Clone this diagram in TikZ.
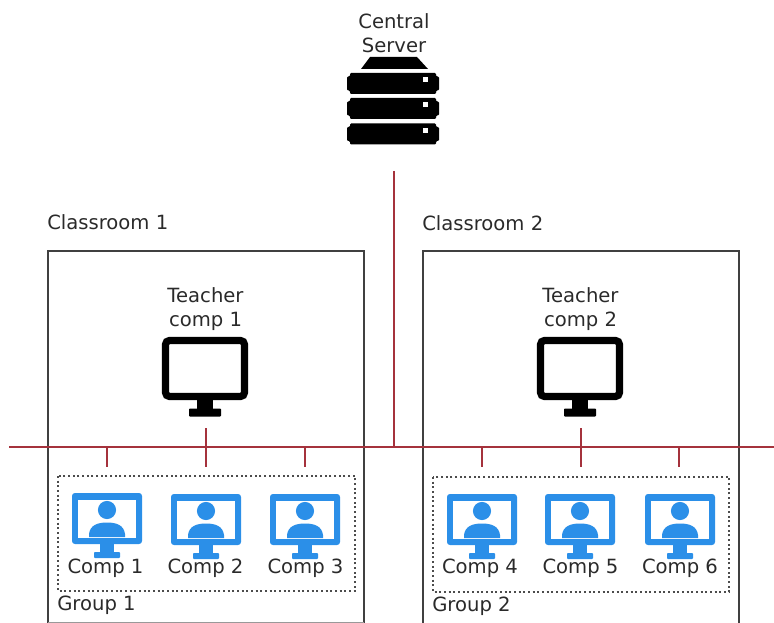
\documentclass[tikz,border=0pt]{standalone}
\usepackage{fontspec}
\setmainfont{DejaVu Sans}
\definecolor{wire}{HTML}{A5323C}
\definecolor{iconblue}{HTML}{2B8FE8}
\definecolor{ink}{HTML}{2A2A2A}
\tikzset{
  x=0.75pt,y=-0.75pt,
  lbl/.style={font=\fontsize{14.7pt}{18pt}\selectfont,text=ink,inner sep=0pt,align=center},
  room/.style={draw=black!75,line width=0.9pt},
  groupbox/.style={draw=black!70,line width=1.3pt,dash pattern=on 1.6pt off 1.9pt},
  wireline/.style={draw=wire,line width=1.3pt},
  pics/student/.style={code={
    \fill[iconblue,rounded corners=2.2pt] (-35,-36) rectangle (35,15);
    \fill[white] (-29,-29) rectangle (29,9);
    \fill[iconblue] (0,-19) circle[radius=6.8pt];
    \fill[iconblue] (-18,8) -- (-18,5) .. controls (-17,-4) and (-9,-6.5) .. (0,-6.5) .. controls (9,-6.5) and (17,-4) .. (18,5) -- (18,8) -- cycle;
    \fill[iconblue] (-7,15) rectangle (7,24);
    \fill[iconblue,rounded corners=0.6pt] (-13,23) rectangle (13,29);
  }},
  pics/teacher/.style={code={
    \draw[black,line width=5.4pt,rounded corners=3pt] (-39.5,-28) rectangle (39.5,28);
    \fill[black] (-8,31) rectangle (8,44);
    \fill[black,rounded corners=0.6pt] (-16,40) rectangle (16,48);
  }},
  pics/rackbar/.style={code={
    \fill[black,rounded corners=0.8pt] (-46,-7) -- (-43,-7) -- (-43,-10.5) -- (43,-10.5) -- (43,-7) -- (46,-7)
      -- (46,7) -- (43,7) -- (43,10.5) -- (-43,10.5) -- (-43,7) -- (-46,7) -- cycle;
    \fill[white] (30,-6) rectangle (35,-1);
  }}
}
\begin{document}
\begin{tikzpicture}
\useasboundingbox (0,0) rectangle (774,623);
% rooms
\draw[room] (48,623) |- (364,251) -- (364,623);
\draw[room] (423,623) |- (739,251) -- (739,623);
\draw[black!40,line width=0.6pt] (48,622.4) -- (364,622.4);
% labels
\node[lbl,anchor=west] (room1) at (47,222) {Classroom 1};
\node[lbl,anchor=west] (room2) at (422,223) {Classroom 2};
\node[lbl] (srvlabel) at (394,33) {Central\\Server};
\node[lbl] (t1label) at (205.5,309) {Teacher\\comp 1};
\node[lbl] (t2label) at (580.5,309) {Teacher\\comp 2};
% server
\fill[black] (370,57) -- (417,57) -- (428,69) -- (361,69) -- cycle;
\pic at (393,83.5) {rackbar};
\pic at (393,108.5) {rackbar};
\pic at (393,134) {rackbar};
\coordinate (srv) at (394,171);
% teacher monitors
\pic at (205,368.5) {teacher};
\pic at (580,368.5) {teacher};
% wiring
\coordinate (busL) at (9,447);
\coordinate (busR) at (774,447);
\coordinate (busM) at (394,447);
\draw[wireline] (busL) -- (busR);
\draw[wireline] (srv) -- (busM);
\foreach \n/\x in {a/107,b/206,c/305,d/482,e/581,f/679}{
  \coordinate (top\n) at (\x,428);
  \coordinate (bus\n) at (\x,447);
  \coordinate (end\n) at (\x,467);
}
\draw[wireline] (busa) -- (enda);
\draw[wireline] (topb) -- (endb);
\draw[wireline] (busc) -- (endc);
\draw[wireline] (busd) -- (endd);
\draw[wireline] (tope) -- (ende);
\draw[wireline] (busf) -- (endf);
% groups
\draw[groupbox] (58,476) rectangle (355,591);
\draw[groupbox] (433,477) rectangle (729,592);
\node[lbl,anchor=west] (g1) at (57,605) {Group 1};
\node[lbl,anchor=west] (g2) at (432,606) {Group 2};
% students
\pic at (107,529) {student};
\pic at (206,530) {student};
\pic at (305,530) {student};
\pic at (482,530) {student};
\pic at (580,530) {student};
\pic at (680,530) {student};
\node[lbl] (c1) at (105.5,568) {Comp 1};
\node[lbl] (c2) at (205.5,568) {Comp 2};
\node[lbl] (c3) at (305.5,568) {Comp 3};
\node[lbl] (c4) at (480,568) {Comp 4};
\node[lbl] (c5) at (580.5,568) {Comp 5};
\node[lbl] (c6) at (680,568) {Comp 6};
\end{tikzpicture}
\end{document}
